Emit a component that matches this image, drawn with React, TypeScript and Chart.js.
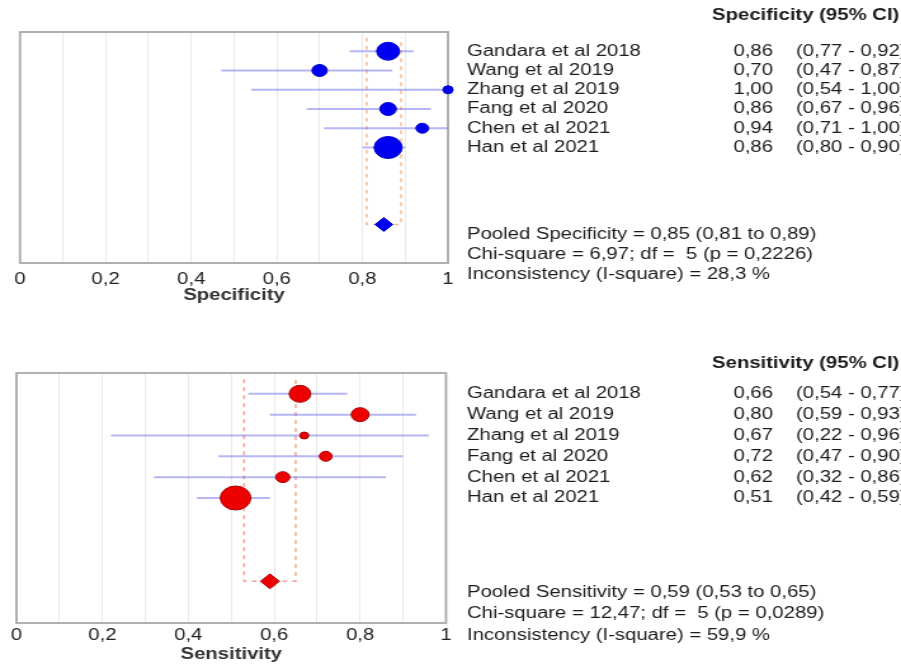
import React, { useEffect, useRef } from 'react';
import { Chart, registerables } from 'chart.js';

Chart.register(...registerables);

// ---------- data ----------
const STUDIES = ['Gandara et al 2018', 'Wang et al 2019', 'Zhang et al 2019', 'Fang et al 2020', 'Chen et al 2021', 'Han et al 2021'];

const SPEC_EST = [0.86, 0.70, 1.00, 0.86, 0.94, 0.86];
const SPEC_LO = [0.77, 0.47, 0.54, 0.67, 0.71, 0.80];
const SPEC_HI = [0.92, 0.87, 1.00, 0.96, 1.00, 0.90];
const SPEC_WEIGHT_R = [9, 6, 4, 6.5, 5, 11];
const SPEC_POOLED = [0.85, 0.81, 0.89];
const SPEC_STATS = [
  'Pooled Specificity = 0,85 (0,81 to 0,89)',
  'Chi-square = 6,97; df =  5 (p = 0,2226)',
  'Inconsistency (I-square) = 28,3 %',
];

const SENS_EST = [0.66, 0.80, 0.67, 0.72, 0.62, 0.51];
const SENS_LO = [0.54, 0.59, 0.22, 0.47, 0.32, 0.42];
const SENS_HI = [0.77, 0.93, 0.96, 0.90, 0.86, 0.59];
const SENS_WEIGHT_R = [8.5, 7, 3.5, 5, 5.5, 12];
const SENS_POOLED = [0.59, 0.53, 0.65];
const SENS_STATS = [
  'Pooled Sensitivity = 0,59 (0,53 to 0,65)',
  'Chi-square = 12,47; df =  5 (p = 0,0289)',
  'Inconsistency (I-square) = 59,9 %',
];

const X_TICKS = [0, 0.2, 0.4, 0.6, 0.8, 1];
const X_TICK_LABELS = ['0', '0,2', '0,4', '0,6', '0,8', '1'];

// ---------- layout ----------
const PAGE_W = 901;
const W = 710; // internal canvas width, stretched horizontally to PAGE_W
const S = PAGE_W / W;
const POOLED_ROW = 10;
const FONT = "'Liberation Sans', Arial, sans-serif";

const fmt = (v: number) => v.toFixed(2).replace('.', ',');

type Panel = {
  header: string;
  axisTitle: string;
  est: number[];
  lo: number[];
  hi: number[];
  radii: number[];
  pooled: number[];
  stats: string[];
  marker: string;
  markerBorder: string;
  ciColor: string;
  dashColor: string;
  diamondR: number;
  top: number;
  height: number;
  pad: { left: number; right: number; top: number };
  headerGap: number;
  tickPad: number;
  titlePad: number;
};

const PANELS: Panel[] = [
  {
    header: 'Specificity (95% CI)',
    axisTitle: 'Specificity',
    est: SPEC_EST, lo: SPEC_LO, hi: SPEC_HI, radii: SPEC_WEIGHT_R,
    pooled: SPEC_POOLED, stats: SPEC_STATS,
    marker: '#0000f0', markerBorder: '#0000c8',
    ciColor: 'rgba(110,110,240,0.5)', dashColor: 'rgba(240,165,115,0.75)',
    diamondR: 7,
    top: 0, height: 320,
    pad: { left: 20 / S, right: W - 448 / S, top: 32 },
    headerGap: 16, tickPad: 7, titlePad: 15,
  },
  {
    header: 'Sensitivity (95% CI)',
    axisTitle: 'Sensitivity',
    est: SENS_EST, lo: SENS_LO, hi: SENS_HI, radii: SENS_WEIGHT_R,
    pooled: SENS_POOLED, stats: SENS_STATS,
    marker: '#ee0000', markerBorder: '#a80000',
    ciColor: 'rgba(110,110,230,0.5)', dashColor: 'rgba(238,135,120,0.75)',
    diamondR: 7.5,
    top: 330, height: 350,
    pad: { left: 15 / S, right: W - 446 / S, top: 43 },
    headerGap: 9, tickPad: 3, titlePad: 16,
  },
];

const NAME_X = 467 / S;
const VAL_RIGHT = 773 / S;
const CI_X = 796 / S;
const HEADER_X = 712 / S;

function makeTextPlugin(p: Panel) {
  return {
    id: 'forestBoxText',
    beforeDatasetsDraw(chart: any) {
      const { ctx, chartArea: a } = chart;
      ctx.save();
      ctx.strokeStyle = '#a8a8a8';
      ctx.lineWidth = 1.8;
      ctx.strokeRect(a.left, a.top, a.right - a.left, a.bottom - a.top);
      ctx.restore();
    },
    afterDraw(chart: any) {
      const { ctx, chartArea: a } = chart;
      const y = chart.scales.y;
      ctx.save();
      ctx.fillStyle = '#1c1c1c';
      ctx.textBaseline = 'middle';
      ctx.font = `bold 16px ${FONT}`;
      ctx.textAlign = 'left';
      ctx.fillText(p.header, HEADER_X, a.top - p.headerGap);
      ctx.font = `16px ${FONT}`;
      STUDIES.forEach((name, i) => {
        const py = y.getPixelForValue(i + 1);
        ctx.textAlign = 'left';
        ctx.fillText(name, NAME_X, py);
        ctx.textAlign = 'right';
        ctx.fillText(fmt(p.est[i]), VAL_RIGHT, py);
        ctx.textAlign = 'left';
        ctx.fillText(`(${fmt(p.lo[i])} - ${fmt(p.hi[i])})`, CI_X, py);
      });
      p.stats.forEach((t, i) => {
        ctx.textAlign = 'left';
        ctx.fillText(t, NAME_X, y.getPixelForValue(POOLED_ROW + 0.55 + i * 1.02));
      });
      ctx.restore();
    },
  };
}

function ForestPanel({ p }: { p: Panel }) {
  const ref = useRef<HTMLCanvasElement | null>(null);
  useEffect(() => {
    if (!ref.current) return;
    const ciSets = STUDIES.map((_, i) => ({
      data: [{ x: p.lo[i], y: i + 1 }, { x: p.hi[i], y: i + 1 }],
      showLine: true,
      borderColor: p.ciColor,
      borderWidth: 2,
      pointRadius: 0,
      order: 2,
      clip: false,
    }));
    const [pm, plo, phi] = p.pooled;
    const dashSet = {
      data: [
        { x: plo, y: 0.3 },
        { x: plo, y: POOLED_ROW },
        { x: phi, y: POOLED_ROW },
        { x: phi, y: 0.3 },
      ],
      showLine: true,
      borderColor: p.dashColor,
      borderWidth: 1.5,
      borderDash: [4, 4],
      pointRadius: 0,
      order: 3,
      clip: false,
    };
    const pointSet = {
      data: p.est.map((v, i) => ({ x: v, y: i + 1 })),
      pointRadius: p.radii,
      pointStyle: 'circle',
      backgroundColor: p.marker,
      borderColor: p.markerBorder,
      borderWidth: 1,
      order: 0,
      clip: false,
    };
    const pooledSet = {
      data: [{ x: pm, y: POOLED_ROW }],
      pointRadius: p.diamondR,
      pointStyle: 'rectRot',
      backgroundColor: p.marker,
      borderColor: p.markerBorder,
      borderWidth: 1,
      order: 0,
      clip: false,
    };
    const chart = new Chart(ref.current, {
      type: 'scatter',
      data: { datasets: [pointSet, pooledSet, ...ciSets, dashSet] as any },
      options: {
        animation: false,
        responsive: false,
        events: [],
        layout: { padding: { left: p.pad.left, right: p.pad.right, top: p.pad.top, bottom: 0 } },
        plugins: { legend: { display: false }, tooltip: { enabled: false } },
        scales: {
          x: {
            type: 'linear',
            position: 'bottom',
            min: 0,
            max: 1,
            afterFit: (scale: any) => { scale.height = 57; },
            border: { display: false },
            grid: { color: '#e9e9e9', lineWidth: 1, drawTicks: false },
            ticks: {
              stepSize: 0.1,
              autoSkip: false,
              maxRotation: 0,
              padding: p.tickPad,
              color: '#222',
              font: { family: FONT, size: 16 },
              callback: (v: any) => {
                const k = X_TICKS.findIndex((t) => Math.abs(t - Number(v)) < 1e-6);
                return k >= 0 ? X_TICK_LABELS[k] : '';
              },
            },
            title: {
              display: true,
              text: p.axisTitle,
              color: '#333',
              font: { family: FONT, size: 16, weight: 'bold' },
              padding: { top: 0, bottom: p.titlePad },
            },
          },
          y: { type: 'linear', min: 0, max: 12, reverse: true, display: false },
        },
      },
      plugins: [makeTextPlugin(p)],
    } as any);
    return () => chart.destroy();
  }, [p]);
  return (
    <canvas
      ref={ref}
      width={W}
      height={p.height}
      style={{ position: 'absolute', left: 0, top: p.top, width: PAGE_W + 'px', height: p.height + 'px' }}
    />
  );
}

export default function App() {
  return (
    <div style={{ position: 'fixed', left: 0, top: 0, width: PAGE_W, height: 664, overflow: 'hidden', background: '#fff' }}>
      {PANELS.map((p, i) => (
        <ForestPanel key={i} p={p} />
      ))}
    </div>
  );
}
